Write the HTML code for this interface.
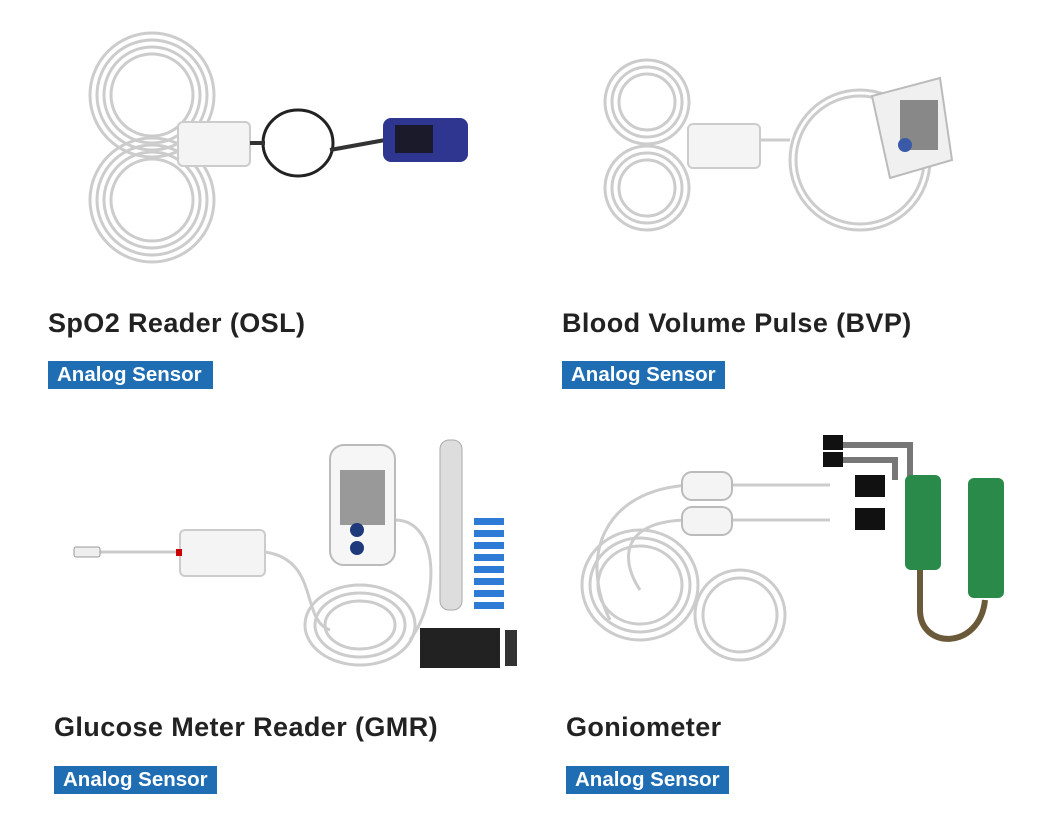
<!DOCTYPE html>
<html><head><meta charset="utf-8">
<style>
html,body{margin:0;padding:0;background:#fff;}
body{width:1043px;height:834px;position:relative;overflow:hidden;font-family:"Liberation Sans",sans-serif;}
.t{position:absolute;font-size:27px;font-weight:bold;color:#222;letter-spacing:0.4px;white-space:nowrap;}
.b{position:absolute;background:#1f6db3;color:#fff;font-size:20.5px;font-weight:bold;height:28px;line-height:28px;padding:0 0 0 9px;white-space:nowrap;}
svg{position:absolute;left:0;top:0;}
</style></head><body>
<svg width="1043" height="834" viewBox="0 0 1043 834">
<g fill="none" stroke="#ccc" stroke-width="3">
 <circle cx="152" cy="95" r="62"/><circle cx="152" cy="95" r="55"/><circle cx="152" cy="95" r="48"/><circle cx="152" cy="95" r="41"/>
 <circle cx="152" cy="200" r="62"/><circle cx="152" cy="200" r="55"/><circle cx="152" cy="200" r="48"/><circle cx="152" cy="200" r="41"/>
 <circle cx="647" cy="102" r="42"/><circle cx="647" cy="102" r="35"/><circle cx="647" cy="102" r="28"/>
 <circle cx="647" cy="188" r="42"/><circle cx="647" cy="188" r="35"/><circle cx="647" cy="188" r="28"/>
 <circle cx="860" cy="160" r="70"/><circle cx="860" cy="160" r="64"/>
 <ellipse cx="360" cy="625" rx="55" ry="40"/><ellipse cx="360" cy="625" rx="45" ry="32"/><ellipse cx="360" cy="625" rx="35" ry="24"/>
 <path d="M100 552 H180 M265 552 C320 560 300 620 330 630 M395 520 C440 520 440 600 410 640"/>
 <ellipse cx="640" cy="585" rx="58" ry="55"/><ellipse cx="640" cy="585" rx="50" ry="47"/><ellipse cx="640" cy="585" rx="42" ry="39"/>
 <ellipse cx="740" cy="615" rx="45" ry="45"/><ellipse cx="740" cy="615" rx="37" ry="37"/>
 <path d="M690 485 C600 490 580 560 610 620 M690 520 C620 520 620 560 640 590 M730 485 H830 M730 520 H830"/>
 <path d="M760 140 H790"/>
</g>
<rect x="178" y="122" width="72" height="44" rx="5" fill="#f4f4f4" stroke="#ccc" stroke-width="2"/>
<ellipse cx="298" cy="143" rx="35" ry="33" fill="none" stroke="#222" stroke-width="3"/>
<path d="M250 143 H265 M330 150 L385 140" stroke="#333" stroke-width="4"/>
<rect x="383" y="118" width="85" height="44" rx="8" fill="#2f3690"/>
<rect x="395" y="125" width="38" height="28" fill="#1a1a2a"/>
<rect x="688" y="124" width="72" height="44" rx="5" fill="#f4f4f4" stroke="#ccc" stroke-width="2"/>
<path d="M872 96 L940 78 L952 160 L890 178 Z" fill="#f0f0f0" stroke="#bbb" stroke-width="2"/>
<rect x="900" y="100" width="38" height="50" fill="#888"/>
<circle cx="905" cy="145" r="7" fill="#3a5aa8"/>
<rect x="180" y="530" width="85" height="46" rx="5" fill="#f4f4f4" stroke="#ccc" stroke-width="2"/>
<rect x="176" y="549" width="6" height="7" fill="#c00"/>
<rect x="74" y="547" width="26" height="10" rx="2" fill="#eee" stroke="#999"/>
<rect x="330" y="445" width="65" height="120" rx="14" fill="#f6f6f6" stroke="#bbb" stroke-width="2"/>
<rect x="340" y="470" width="45" height="55" fill="#999"/>
<circle cx="357" cy="530" r="7" fill="#1f3a7a"/><circle cx="357" cy="548" r="7" fill="#1f3a7a"/>
<rect x="440" y="440" width="22" height="170" rx="9" fill="#ddd" stroke="#aaa"/>
<g fill="#2e7bd6"><rect x="474" y="518" width="30" height="7"/><rect x="474" y="530" width="30" height="7"/><rect x="474" y="542" width="30" height="7"/><rect x="474" y="554" width="30" height="7"/><rect x="474" y="566" width="30" height="7"/><rect x="474" y="578" width="30" height="7"/><rect x="474" y="590" width="30" height="7"/><rect x="474" y="602" width="30" height="7"/></g>
<rect x="420" y="628" width="80" height="40" fill="#222"/>
<rect x="505" y="630" width="12" height="36" fill="#333"/>
<rect x="682" y="472" width="50" height="28" rx="10" fill="#f4f4f4" stroke="#bbb" stroke-width="2"/>
<rect x="682" y="507" width="50" height="28" rx="10" fill="#f4f4f4" stroke="#bbb" stroke-width="2"/>
<path d="M830 445 H910 V480 M830 460 H895 V480" stroke="#777" stroke-width="6" fill="none"/>
<rect x="823" y="435" width="20" height="15" fill="#111"/><rect x="823" y="452" width="20" height="15" fill="#111"/>
<rect x="855" y="475" width="30" height="22" fill="#111"/><rect x="855" y="508" width="30" height="22" fill="#111"/>
<rect x="905" y="475" width="36" height="95" rx="6" fill="#2a8a4a"/>
<rect x="968" y="478" width="36" height="120" rx="6" fill="#2a8a4a"/>
<path d="M920 570 V610 C920 650 980 650 985 600" stroke="#6b5a3a" stroke-width="6" fill="none"/>
</svg>
<div class="t" style="left:48px;top:308px;">SpO2 Reader (OSL)</div>
<div class="b" style="left:48px;top:361px;width:156px;">Analog Sensor</div>
<div class="t" style="left:562px;top:308px;">Blood Volume Pulse (BVP)</div>
<div class="b" style="left:562px;top:361px;width:154px;">Analog Sensor</div>
<div class="t" style="left:54px;top:712px;">Glucose Meter Reader (GMR)</div>
<div class="b" style="left:54px;top:766px;width:154px;">Analog Sensor</div>
<div class="t" style="left:566px;top:712px;">Goniometer</div>
<div class="b" style="left:566px;top:766px;width:154px;">Analog Sensor</div>
</body></html>
